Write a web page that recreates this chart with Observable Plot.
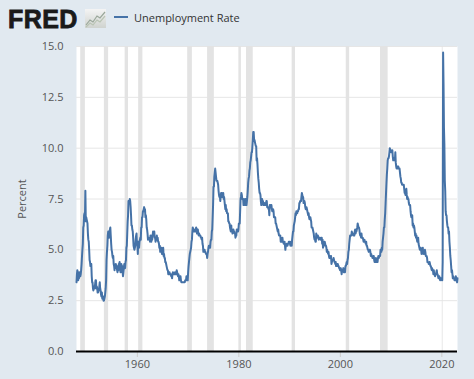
<!DOCTYPE html>
<html>
<head>
<meta charset="utf-8">
<script src="https://cdn.jsdelivr.net/npm/d3@7"></script>
<script src="https://cdn.jsdelivr.net/npm/@observablehq/plot@0.6"></script>
<style>
  html, body { margin: 0; padding: 0; background: #e1e9f0; }
  #wrap { position: relative; width: 474px; height: 379px; overflow: hidden; background: #e1e9f0; font-family: "Open Sans", sans-serif; }
  #logo { position: absolute; left: 8px; top: 5px; font-family: "Liberation Sans", Arial, sans-serif; font-weight: 900; font-size: 25px; letter-spacing: 0.4px; color: #1a1a1a; -webkit-text-stroke: 0.8px #1a1a1a; }
  #icon { position: absolute; left: 85px; top: 9px; }
  #legend { position: absolute; left: 114px; top: 9px; display: flex; align-items: center; }
  #legend span { font-size: 11px; color: #333; margin-left: 6px; }
  #chart { position: absolute; left: 0; top: 0; }
</style>
</head>
<body>
<div id="wrap">
  <div id="chart"></div>
  <div id="logo">FRED</div>
  <svg id="icon" width="21" height="19" viewBox="0 0 21 19">
    <defs><linearGradient id="g" x1="0" y1="0" x2="0" y2="1"><stop offset="0" stop-color="#f4f4f4"/><stop offset="1" stop-color="#cfd3cf"/></linearGradient></defs>
    <rect x="0" y="0" width="21" height="19" fill="url(#g)"/>
    <polyline points="1,16 5,11 8,13 12,7 15,9 20,3" fill="none" stroke="#9aa79a" stroke-width="1.2"/>
    <polyline points="1,18 5,14 8,16 12,11 15,13 20,7" fill="none" stroke="#b9c4b4" stroke-width="1.2"/>
  </svg>
  <div id="legend"><svg width="14" height="16"><line x1="0" y1="8" x2="14" y2="8" stroke="#4572a7" stroke-width="2"/></svg><span>Unemployment Rate</span></div>
</div>
<script>
// Monthly civilian unemployment rate (percent), starting January of the first year
const rates1948to1949 = [
  3.4,3.8,4.0,3.9,3.5,3.6,3.6,3.9,3.8,3.7,3.8,4.0,
  4.3,4.7,5.0,5.3,6.1,6.2,6.7,6.8,6.6,7.9,6.4,6.6
];
const rates1950s = [
  6.5,6.4,6.3,5.8,5.5,5.4,5.0,4.5,4.4,4.2,4.2,4.3,
  3.7,3.4,3.4,3.1,3.0,3.2,3.1,3.1,3.3,3.5,3.5,3.1,
  3.2,3.1,2.9,2.9,3.0,3.0,3.2,3.4,3.1,3.0,2.8,2.7,
  2.9,2.6,2.6,2.7,2.5,2.5,2.6,2.7,2.9,3.1,3.5,4.5,
  4.9,5.2,5.7,5.9,5.9,5.6,5.8,6.0,6.1,5.7,5.3,5.0,
  4.9,4.7,4.6,4.7,4.3,4.2,4.0,4.2,4.1,4.3,4.2,4.2,
  4.0,3.9,4.2,4.0,4.3,4.3,4.4,4.1,3.9,3.9,4.3,4.2,
  4.2,3.9,3.7,3.9,4.1,4.3,4.2,4.1,4.4,4.5,5.1,5.2,
  5.8,6.4,6.7,7.4,7.4,7.3,7.5,7.4,7.1,6.7,6.2,6.2,
  6.0,5.9,5.6,5.2,5.1,5.0,5.1,5.2,5.5,5.7,5.8,5.3
];
const rates1960s = [
  5.2,4.8,5.4,5.2,5.1,5.4,5.5,5.6,5.5,6.1,6.1,6.6,
  6.6,6.9,6.9,7.0,7.1,6.9,7.0,6.6,6.7,6.5,6.1,6.0,
  5.8,5.5,5.6,5.6,5.5,5.5,5.4,5.7,5.6,5.4,5.7,5.5,
  5.7,5.9,5.7,5.7,5.9,5.6,5.6,5.4,5.5,5.5,5.7,5.5,
  5.6,5.4,5.4,5.3,5.1,5.2,4.9,5.0,5.1,5.1,4.8,5.0,
  4.9,5.1,4.7,4.8,4.6,4.6,4.4,4.4,4.3,4.2,4.1,4.0,
  4.0,3.8,3.8,3.8,3.9,3.8,3.8,3.8,3.7,3.7,3.6,3.8,
  3.9,3.8,3.8,3.8,3.8,3.9,3.8,3.8,3.8,4.0,3.9,3.8,
  3.7,3.8,3.7,3.5,3.5,3.7,3.7,3.5,3.4,3.4,3.4,3.4,
  3.4,3.4,3.4,3.4,3.4,3.5,3.5,3.5,3.7,3.7,3.5,3.5
];
const rates1970s = [
  3.9,4.2,4.4,4.6,4.8,4.9,5.0,5.1,5.4,5.5,5.9,6.1,
  5.9,5.9,6.0,5.9,5.9,5.9,6.0,6.1,6.0,5.8,6.0,6.0,
  5.8,5.7,5.8,5.7,5.7,5.7,5.6,5.6,5.5,5.6,5.3,5.2,
  4.9,5.0,4.9,5.0,4.9,4.9,4.8,4.8,4.8,4.6,4.8,4.9,
  5.1,5.2,5.1,5.1,5.1,5.4,5.5,5.5,5.9,6.0,6.6,7.2,
  8.1,8.1,8.6,8.8,9.0,8.8,8.6,8.4,8.4,8.4,8.3,8.2,
  7.9,7.7,7.6,7.7,7.4,7.6,7.8,7.8,7.6,7.7,7.8,7.8,
  7.5,7.6,7.4,7.2,7.0,7.2,6.9,7.0,6.8,6.8,6.8,6.4,
  6.4,6.3,6.3,6.1,6.0,5.9,6.2,5.9,6.0,5.8,5.9,6.0,
  5.9,5.9,5.8,5.8,5.6,5.7,5.7,6.0,5.9,6.0,5.9,6.0
];
const rates1980s = [
  6.3,6.3,6.3,6.9,7.5,7.6,7.8,7.7,7.5,7.5,7.5,7.2,
  7.5,7.4,7.4,7.2,7.5,7.5,7.2,7.4,7.6,7.9,8.3,8.5,
  8.6,8.9,9.0,9.3,9.4,9.6,9.8,9.8,10.1,10.4,10.8,10.8,
  10.4,10.4,10.3,10.2,10.1,10.1,9.4,9.5,9.2,8.8,8.5,8.3,
  8.0,7.8,7.8,7.7,7.4,7.2,7.5,7.5,7.3,7.4,7.2,7.3,
  7.3,7.2,7.2,7.3,7.2,7.4,7.4,7.1,7.1,7.1,7.0,7.0,
  6.7,7.2,7.2,7.1,7.2,7.2,7.0,6.9,7.0,7.0,6.9,6.6,
  6.6,6.6,6.6,6.3,6.3,6.2,6.1,6.0,5.9,6.0,5.8,5.7,
  5.7,5.7,5.7,5.4,5.6,5.4,5.4,5.6,5.4,5.4,5.3,5.3,
  5.4,5.2,5.0,5.2,5.2,5.3,5.2,5.2,5.3,5.3,5.4,5.4
];
const rates1990s = [
  5.4,5.3,5.2,5.4,5.4,5.2,5.5,5.7,5.9,5.9,6.2,6.3,
  6.4,6.6,6.8,6.7,6.9,6.9,6.8,6.9,6.9,7.0,7.0,7.3,
  7.3,7.4,7.4,7.4,7.6,7.8,7.7,7.6,7.6,7.3,7.4,7.4,
  7.3,7.1,7.0,7.1,7.1,7.0,6.9,6.8,6.7,6.8,6.6,6.5,
  6.6,6.6,6.5,6.4,6.1,6.1,6.1,6.0,5.9,5.8,5.6,5.5,
  5.6,5.4,5.4,5.8,5.6,5.6,5.7,5.7,5.6,5.5,5.6,5.6,
  5.6,5.5,5.5,5.6,5.6,5.3,5.5,5.1,5.2,5.2,5.4,5.4,
  5.3,5.2,5.2,5.1,4.9,5.0,4.9,4.8,4.9,4.7,4.6,4.7,
  4.6,4.6,4.7,4.3,4.4,4.5,4.5,4.5,4.6,4.5,4.4,4.4,
  4.3,4.4,4.2,4.3,4.2,4.3,4.3,4.2,4.2,4.1,4.1,4.0
];
const rates2000s = [
  4.0,4.1,4.0,3.8,4.0,4.0,4.0,4.1,3.9,3.9,3.9,3.9,
  4.2,4.2,4.3,4.4,4.3,4.5,4.6,4.9,5.0,5.3,5.5,5.7,
  5.7,5.7,5.7,5.9,5.8,5.8,5.8,5.7,5.7,5.7,5.9,6.0,
  5.8,5.9,5.9,6.0,6.1,6.3,6.2,6.1,6.1,6.0,5.8,5.7,
  5.7,5.6,5.8,5.6,5.6,5.6,5.5,5.4,5.4,5.5,5.4,5.4,
  5.3,5.4,5.2,5.2,5.1,5.0,5.0,4.9,5.0,5.0,5.0,4.9,
  4.7,4.8,4.7,4.7,4.6,4.6,4.7,4.7,4.5,4.4,4.5,4.4,
  4.6,4.5,4.4,4.5,4.4,4.6,4.7,4.6,4.7,4.7,4.7,5.0,
  5.0,4.9,5.1,5.0,5.4,5.6,5.8,6.1,6.1,6.5,6.8,7.3,
  7.8,8.3,8.7,9.0,9.4,9.5,9.5,9.6,9.8,10.0,9.9,9.9
];
const rates2010s = [
  9.8,9.8,9.9,9.9,9.6,9.4,9.4,9.5,9.5,9.4,9.8,9.3,
  9.1,9.0,9.0,9.1,9.0,9.1,9.0,9.0,9.0,8.8,8.6,8.5,
  8.3,8.3,8.2,8.2,8.2,8.2,8.2,8.0,7.8,7.8,7.7,7.9,
  8.0,7.7,7.5,7.6,7.5,7.5,7.3,7.2,7.2,7.2,6.9,6.7,
  6.6,6.7,6.7,6.2,6.3,6.1,6.2,6.1,5.9,5.7,5.8,5.6,
  5.7,5.5,5.4,5.4,5.6,5.3,5.2,5.1,5.0,5.0,5.1,5.0,
  4.8,4.9,5.0,5.1,4.8,4.9,4.8,4.9,5.0,4.9,4.7,4.7,
  4.7,4.6,4.4,4.4,4.4,4.3,4.3,4.4,4.3,4.2,4.2,4.1,
  4.0,4.1,4.0,4.0,3.8,4.0,3.8,3.8,3.7,3.8,3.8,3.9,
  4.0,3.8,3.8,3.7,3.6,3.6,3.7,3.6,3.5,3.6,3.6,3.6
];
const rates2020s = [
  3.5,3.5,4.4,14.7,13.2,11.0,10.2,8.4,7.9,6.9,6.7,6.7,
  6.4,6.2,6.1,6.1,5.8,5.9,5.4,5.1,4.7,4.5,4.2,3.9,
  4.0,3.8,3.6,3.7,3.6,3.6,3.5,3.6,3.5,3.7,3.6,3.5,
  3.4,3.6
];

// NBER recessions: [start year, start month, end year, end month]
const recessions = [
  [1948,11,1949,10],[1953,7,1954,5],[1957,8,1958,4],[1960,4,1961,2],
  [1969,12,1970,11],[1973,11,1975,3],[1980,1,1980,7],[1981,7,1982,11],
  [1990,7,1991,3],[2001,3,2001,11],[2007,12,2009,6],[2020,2,2020,4]
];

const yTicks = [0, 2.5, 5, 7.5, 10, 12.5, 15];
const xTickYears = [1960, 1980, 2000, 2020];

const allRates = [].concat(rates1948to1949, rates1950s, rates1960s, rates1970s, rates1980s, rates1990s, rates2000s, rates2010s, rates2020s);
const data = allRates.map((v, i) => ({date: new Date(Date.UTC(1948, i, 1)), value: v}));
const recData = recessions.map(([y1, m1, y2, m2]) => ({start: new Date(Date.UTC(y1, m1 - 1, 1)), end: new Date(Date.UTC(y2, m2 - 1, 1))}));
const xTicks = xTickYears.map(y => new Date(Date.UTC(y, 0, 1)));

const chart = Plot.plot({
  width: 474,
  height: 379,
  marginTop: 46,
  marginBottom: 28,
  marginLeft: 76,
  marginRight: 17,
  style: {background: "transparent", fontFamily: "Open Sans", fontSize: "11px"},
  x: {type: "utc", domain: [data[0].date, data[data.length - 1].date]},
  y: {domain: [0, 15]},
  marks: [
    Plot.frame({fill: "white", stroke: null}),
    Plot.gridY(yTicks, {stroke: "#e6e6e6", strokeOpacity: 1}),
    Plot.rectY(recData, {x1: "start", x2: "end", y1: 0, y2: 15, fill: "#e3e3e3"}),
    Plot.axisY({ticks: yTicks, tickFormat: d3.format(".1f"), tickSize: 0, tickPadding: 13, fill: "#555", label: "Percent", labelAnchor: "center", labelArrow: "none", labelOffset: 58}),
    Plot.axisX({ticks: xTicks, tickFormat: d3.utcFormat("%Y"), tickSize: 6, tickPadding: 3, stroke: "#ccc", fill: "#555", label: null}),
    Plot.lineY(data, {x: "date", y: "value", stroke: "#4572a7", strokeWidth: 2}),
    Plot.ruleY([0], {stroke: "#000", strokeWidth: 2})
  ]
});
document.getElementById("chart").appendChild(chart);
</script>
</body>
</html>
